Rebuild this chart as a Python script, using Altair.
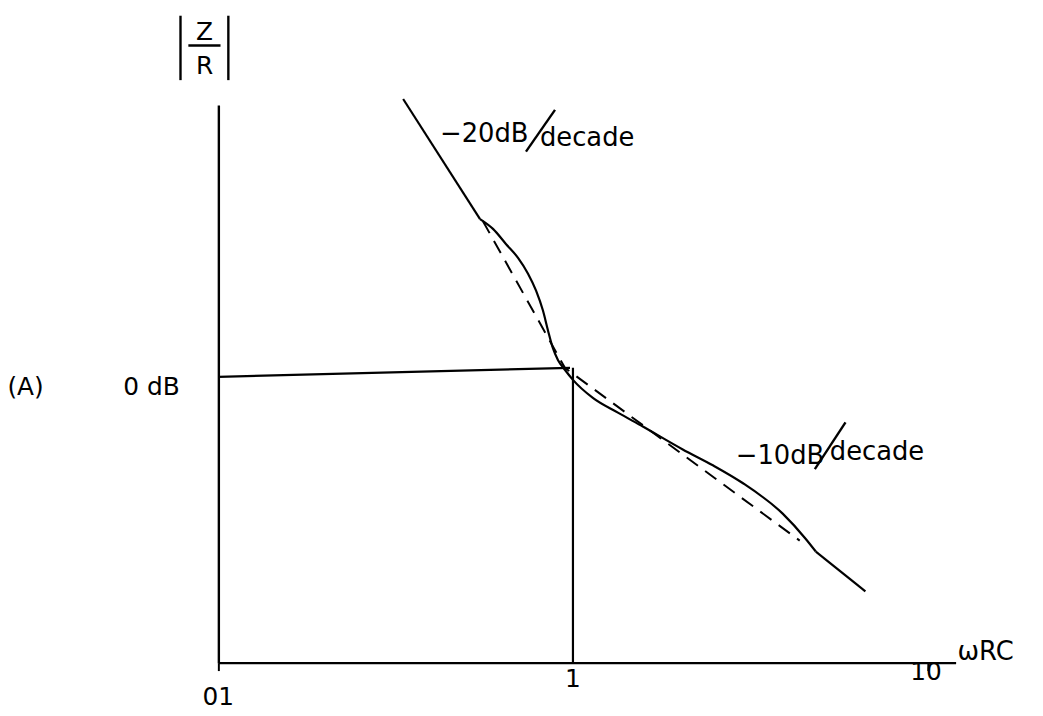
import altair as alt
import pandas as pd

# Solid magnitude curve (omega*RC, dB): straight top, curved middle, straight tail
top_w = [0.332, 0.547]
top_db = [10.0, 5.6]
mid_w = [0.547, 0.595, 0.647, 0.700, 0.747, 0.787, 0.823, 0.850, 0.878,
         0.907, 0.950, 1.0, 1.138, 1.339, 1.574, 2.04, 2.48, 3.01, 3.91, 4.53, 4.84]
mid_db = [5.6, 5.24, 4.69, 4.18, 3.60, 2.98, 2.25, 1.53, 0.87,
          0.44, 0.07, -0.29, -0.95, -1.49, -2.0, -2.84, -3.42, -4.07, -5.2, -6.11, -6.58]
tail_w = [4.84, 6.68]
tail_db = [-6.58, -8.04]

# Dashed asymptotes
dash_w = [0.557, 0.949, 4.36]
dash_db = [5.53, 0.15, -6.18]

# 0 dB reference line and the vertical at omega*RC = 1
ref_w = [0.1, 0.981, 1.0, 1.0]
ref_db = [-0.18, 0.15, 0.15, -10.65]
ref_g = ["h", "h", "v", "v"]

# Slope annotations (text pieces and the big hand-drawn slash)
slope_text = ["\u221220dB", "decade", "\u221210dB", "decade"]
slope_w = [0.422, 0.807, 2.88, 5.30]
slope_db = [8.73, 8.55, -3.09, -2.95]
slash_w = [0.737, 4.81]
slash_w2 = [0.890, 5.87]
slash_db = [8.07, -3.56]
slash_db2 = [9.6, -1.85]

# Tick labels (hand-lettered)
tick_text = ["01", "1", "10"]
tick_w = [0.1, 1.0, 9.9]
tick_db = [-11.9, -11.24, -11.0]

# Other labels
lab_text = ["(A)", "0 dB", "Z", "R"]
lab_w = [0.0286, 0.0648, 0.0914, 0.0914]
lab_db = [-0.55, -0.55, 12.44, 11.2]
unit_text = ["\u03c9RC"]
unit_w = [12.15]
unit_db = [-10.25]

# Fraction bar and absolute-value bars of |Z/R|
bar_w = [0.0823, 0.0782, 0.1067]
bar_w2 = [0.1014, 0.0782, 0.1067]
bar_db = [11.96, 13.05, 13.05]
bar_db2 = [11.96, 10.69, 10.69]

FONT = "DejaVu Sans"

xscale = alt.Scale(type="log", domain=[0.1, 12.0], nice=False)
yscale = alt.Scale(domain=[-10.65, 9.78], nice=False, zero=False)
xaxis = alt.Axis(values=[0.1, 10], labels=False, ticks=True, tickSize=8, tickColor="black",
                 tickWidth=2, domainColor="black", domainWidth=2.4, grid=False, title=None)
yaxis = alt.Axis(labels=False, ticks=False, domainColor="black", domainWidth=2.4,
                 grid=False, title=None)


def X(field):
    return alt.X(field, type="quantitative", scale=xscale, axis=xaxis)


def Y(field):
    return alt.Y(field, type="quantitative", scale=yscale, axis=yaxis)


def seq_df(ws, dbs, g):
    return pd.DataFrame({"w": ws, "db": dbs, "g": [g] * len(ws), "o": range(len(ws))})


straight_df = pd.concat([seq_df(top_w, top_db, "top"), seq_df(tail_w, tail_db, "tail")])
mid_df = seq_df(mid_w, mid_db, "mid")
dash_df = seq_df(dash_w, dash_db, "dash")
ref_df = pd.DataFrame({"w": ref_w, "db": ref_db, "g": ref_g, "o": range(len(ref_w))})
slope_df = pd.DataFrame({"w": slope_w, "db": slope_db, "t": slope_text})
slash_df = pd.DataFrame({"w": slash_w, "w2": slash_w2, "db": slash_db, "db2": slash_db2})
tick_df = pd.DataFrame({"w": tick_w, "db": tick_db, "t": tick_text})
lab_df = pd.DataFrame({"w": lab_w, "db": lab_db, "t": lab_text})
unit_df = pd.DataFrame({"w": unit_w, "db": unit_db, "t": unit_text})
bar_df = pd.DataFrame({"w": bar_w, "w2": bar_w2, "db": bar_db, "db2": bar_db2})

straight = alt.Chart(straight_df).mark_line(color="black", strokeWidth=2.2).encode(
    x=X("w"), y=Y("db"), detail="g:N", order="o:Q")
curve = alt.Chart(mid_df).mark_line(color="black", strokeWidth=2.2, interpolate="monotone").encode(
    x=X("w"), y=Y("db"), order="o:Q")
dashed = alt.Chart(dash_df).mark_line(color="black", strokeWidth=2, strokeDash=[14, 9]).encode(
    x=X("w"), y=Y("db"), order="o:Q")
ref = alt.Chart(ref_df).mark_line(color="black", strokeWidth=2.2).encode(
    x=X("w"), y=Y("db"), detail="g:N", order="o:Q")
slopes = alt.Chart(slope_df).mark_text(align="left", baseline="middle", fontSize=26,
                                       font=FONT, color="black").encode(
    x=X("w"), y=Y("db"), text="t:N")
slashes = alt.Chart(slash_df).mark_rule(color="black", strokeWidth=2.4).encode(
    x=X("w"), x2="w2", y=Y("db"), y2="db2")
ticks = alt.Chart(tick_df).mark_text(align="center", baseline="middle", fontSize=25,
                                     font=FONT, color="black").encode(
    x=X("w"), y=Y("db"), text="t:N")
labs = alt.Chart(lab_df).mark_text(align="center", baseline="middle", fontSize=25,
                                   font=FONT, color="black").encode(
    x=X("w"), y=Y("db"), text="t:N")
unit = alt.Chart(unit_df).mark_text(align="left", baseline="middle", fontSize=26,
                                    font=FONT, color="black").encode(
    x=X("w"), y=Y("db"), text="t:N")
bars = alt.Chart(bar_df).mark_rule(color="black", strokeWidth=2.4).encode(
    x=X("w"), x2="w2", y=Y("db"), y2="db2")

chart = alt.layer(ref, dashed, straight, curve, slopes, slashes, ticks, labs, unit, bars).properties(
    width=743, height=562,
    autosize=alt.AutoSizeParams(type="none"),
    padding={"left": 212, "top": 95, "right": 80, "bottom": 45},
    background="white",
).configure_view(stroke=None)

chart.save("out.html", embed_options={"renderer": "svg", "actions": False})
